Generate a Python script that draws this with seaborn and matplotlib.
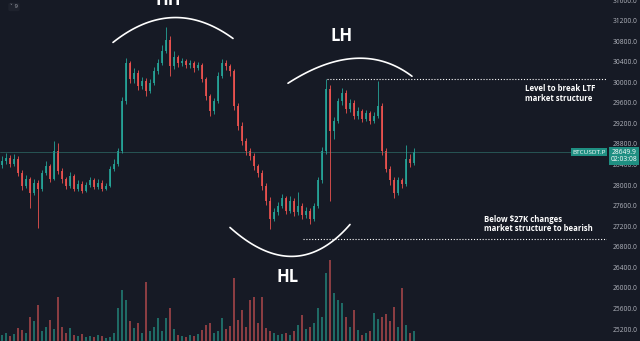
import numpy as np
import pandas as pd
import matplotlib
matplotlib.use("Agg")
import matplotlib.pyplot as plt
import seaborn as sns

# ---------------- data ----------------
first_open = 28400
closes = [28470, 28530, 28420, 28510, 28240, 27990, 28120, 27850, 28050, 27930,
          28240, 28380, 28120, 28660, 28280, 28120, 27990, 28180, 27930, 28030,
          27890, 28010, 28090, 27970, 28050, 27930, 27990, 28320, 28420, 28660,
          29630, 30370, 30060, 30180, 29920, 30020, 29830, 29980, 30210, 30370,
          30600, 30830, 30310, 30500, 30370, 30410, 30330, 30370, 30270, 30330,
          30060, 29730, 29440, 29630, 30120, 30370, 30310, 30210, 29540, 29150,
          28860, 28660, 28570, 28370, 28240, 27990, 27700, 27350, 27470, 27600,
          27740, 27500, 27700, 27470, 27600, 27410, 27500, 27350, 27600, 28090,
          28660, 29870, 29050, 29250, 29630, 29790, 29480, 29600, 29340, 29440,
          29290, 29400, 29250, 29340, 29540, 28660, 28320, 28090, 27850, 28090,
          28030, 28510, 28430, 28649.9]
highs = [28560, 28620, 28580, 28600, 28560, 28290, 28200, 28160, 28110, 28100,
         28300, 28460, 28420, 28860, 28820, 28330, 28160, 28260, 28220, 28090,
         28080, 28070, 28150, 28130, 28110, 28090, 28050, 28380, 28500, 28720,
         29720, 30470, 30420, 30280, 30230, 30110, 30080, 30060, 30290, 30460,
         30720, 31080, 30900, 30600, 30540, 30480, 30460, 30430, 30410, 30400,
         30380, 30100, 29780, 29700, 30200, 30450, 30430, 30350, 30260, 29600,
         29220, 28920, 28720, 28620, 28420, 28290, 28040, 27760, 27560, 27680,
         27820, 27790, 27780, 27740, 27870, 27650, 27580, 27560, 27660, 28160,
         28740, 30060, 29950, 29320, 29700, 29880, 29840, 29680, 29650, 29520,
         29480, 29470, 29440, 29420, 30020, 29600, 28720, 28380, 28150, 28160,
         28140, 28780, 28600, 28720]
lows = [28330, 28420, 28350, 28380, 28180, 27900, 27940, 27560, 27800, 27160,
        27880, 28200, 28060, 28090, 28220, 28040, 27920, 27950, 27880, 27890,
        27840, 27860, 27970, 27920, 27930, 27880, 27900, 27960, 28280, 28380,
        28620, 29580, 29980, 29990, 29850, 29860, 29740, 29790, 29950, 30170,
        30330, 30560, 30120, 30260, 30300, 30320, 30270, 30280, 30200, 30230,
        30000, 29650, 29350, 29380, 29590, 30080, 30240, 30120, 29460, 29080,
        28780, 28580, 28480, 28290, 28160, 27900, 27620, 27150, 27300, 27420,
        27550, 27440, 27450, 27400, 27420, 27340, 27360, 27250, 27300, 27560,
        28040, 28600, 27700, 28900, 29200, 29560, 29400, 29430, 29280, 29290,
        29230, 29240, 29180, 29200, 29300, 28580, 28250, 28000, 27750, 27810,
        27950, 27990, 28360, 28390]
volume_k = [6, 8, 5, 7, 13, 11, 8, 24, 20, 36,
            10, 14, 21, 12, 44, 14, 8, 13, 6, 5,
            7, 4, 5, 4, 6, 5, 3, 4, 8, 33,
            51, 41, 20, 13, 18, 8, 59, 10, 14, 23,
            10, 23, 33, 12, 6, 5, 4, 6, 5, 7,
            11, 16, 18, 8, 10, 23, 12, 15, 63, 21,
            31, 14, 41, 44, 18, 44, 13, 10, 8, 6,
            7, 8, 6, 10, 16, 26, 12, 14, 18, 33,
            24, 68, 81, 48, 41, 38, 24, 14, 31, 11,
            6, 8, 10, 28, 22, 24, 27, 20, 34, 14,
            53, 16, 8, 10]
price_ticks = [25200, 25600, 26000, 26400, 26800, 27200, 27600, 28000, 28400,
               28800, 29200, 29600, 30000, 30400, 30800, 31200, 31600]
break_level = 30060
bear_level = 26960
last_price_label = "28649.9"
countdown = "02:03:08"
symbol = "BTCUSDT.P"

# ---------------- style ----------------
BG = "#161a25"
UP = "#26a69a"
DOWN = "#ef5350"
VUP = "#1f6a65"
VDOWN = "#8a3d42"
TXT = "#b2b5be"
sns.set_theme(style="dark", rc={"axes.facecolor": BG, "figure.facecolor": BG})
plt.rcParams["font.family"] = ["Open Sans", "DejaVu Sans"]

opens = [first_open] + closes[:-1]
n = len(closes)
idx = np.arange(n)
df = pd.DataFrame({"i": idx, "open": opens, "close": closes, "high": highs,
                   "low": lows, "vol": volume_k})
df["dir"] = np.where(df["close"] >= df["open"], "up", "down")
colors = [UP if d == "up" else DOWN for d in df["dir"]]

fig = plt.figure(figsize=(6.4, 3.41), dpi=100)
fig.patch.set_facecolor(BG)
ax = fig.add_axes([0, 0, 607 / 640, 1])
axv = ax.twinx()
ax.set_zorder(3)
ax.patch.set_visible(False)
axv.patch.set_facecolor(BG)

# volume (seaborn)
sns.barplot(data=df, x="i", y="vol", hue="dir", palette={"up": VUP, "down": VDOWN},
            native_scale=True, dodge=False, legend=False, ax=axv, width=0.5,
            saturation=1, errorbar=None, linewidth=0)
axv.set_ylim(0, max(volume_k) * 341 / 81)
axv.set_yticks([])
axv.set_ylabel("")
axv.set_xlabel("")

# candles
body_lo = np.minimum(df["open"], df["close"])
body_h = np.maximum(np.abs(df["close"] - df["open"]), 15)
ax.vlines(idx, df["low"], df["high"], colors=colors, lw=0.7, alpha=0.85)
ax.bar(idx, body_h, bottom=body_lo, color=colors, width=0.7, alpha=0.85, linewidth=0)

ax.set_xlim(-0.5, 151.25)
ax.set_ylim(24968, 31580)

# price axis
ax.yaxis.tick_right()
ax.set_yticks(price_ticks)
ax.set_yticklabels([f"{v:.1f}" for v in price_ticks])
ax.tick_params(axis="y", length=0, pad=4, labelsize=4.8, labelcolor=TXT)
ax.set_xticks([])
ax.set_xlabel("")
ax.set_ylabel("")
for a in (ax, axv):
    for s in a.spines.values():
        s.set_visible(False)
ax.grid(False)
axv.grid(False)

# current price line
ax.axhline(closes[-1], color="#2f6f69", lw=0.6, alpha=0.8, zorder=1)

# levels
ax.hlines(break_level, 81.3, 151.25, colors="white", linestyles=(0, (1, 1.6)), lw=0.8)
ax.hlines(bear_level, 75.3, 151.25, colors="white", linestyles=(0, (1, 1.6)), lw=0.8)


def arc(p0, pm, p2, **kw):
    p0, pm, p2 = map(np.array, (p0, pm, p2))
    c = 2 * pm - 0.5 * (p0 + p2)
    t = np.linspace(0, 1, 80)[:, None]
    pts = (1 - t) ** 2 * p0 + 2 * (1 - t) * t * c + t ** 2 * p2
    ax.plot(pts[:, 0], pts[:, 1], **kw)


arc_kw = dict(color="white", lw=1.2, solid_capstyle="round")
arc((27.75, 30775), (42.75, 31258), (57.75, 30852), **arc_kw)
arc((71.5, 29981), (88.25, 30465), (102.5, 30117), **arc_kw)
arc((57.0, 27176), (72.75, 26614), (87.0, 27234), **arc_kw)

lab_kw = dict(color="white", fontsize=12, fontweight="bold", ha="center", va="baseline")
ax.text(41.5, 31510, "HH", **lab_kw)
ax.text(85.0, 30794, "LH", **lab_kw)
ax.text(71.5, 26111, "HL", **lab_kw)

note_kw = dict(color="white", fontsize=5.6, fontweight="bold", ha="left", va="top",
               linespacing=1.05)
ax.text(130.7, 29960, "Level to break LTF\nmarket structure", **note_kw)
ax.text(120.5, 27420, "Below $27K changes\nmarket structure to bearish", **note_kw)

# price tags
ytag = 1 - 152 / 341
fig.text(589 / 640, ytag, symbol, color="white", fontsize=4.6, ha="center", va="center",
         bbox=dict(boxstyle="square,pad=0.25", fc="#1f8f82", ec="none"))
fig.text(624 / 640, 1 - 156 / 341, last_price_label + "\n" + countdown, color="white",
         fontsize=4.8, ha="center", va="center", linespacing=1.1,
         bbox=dict(boxstyle="square,pad=0.3", fc="#1f8f82", ec="none"))

# top-left toggle
fig.text(14 / 640, 1 - 7 / 341, "˅ 9", color="#9598a1", fontsize=4, ha="center",
         va="center", family=["DejaVu Sans"],
         bbox=dict(boxstyle="round,pad=0.3", fc="#1e222d", ec="none"))

fig.savefig("out.png", dpi=100, facecolor=BG)
